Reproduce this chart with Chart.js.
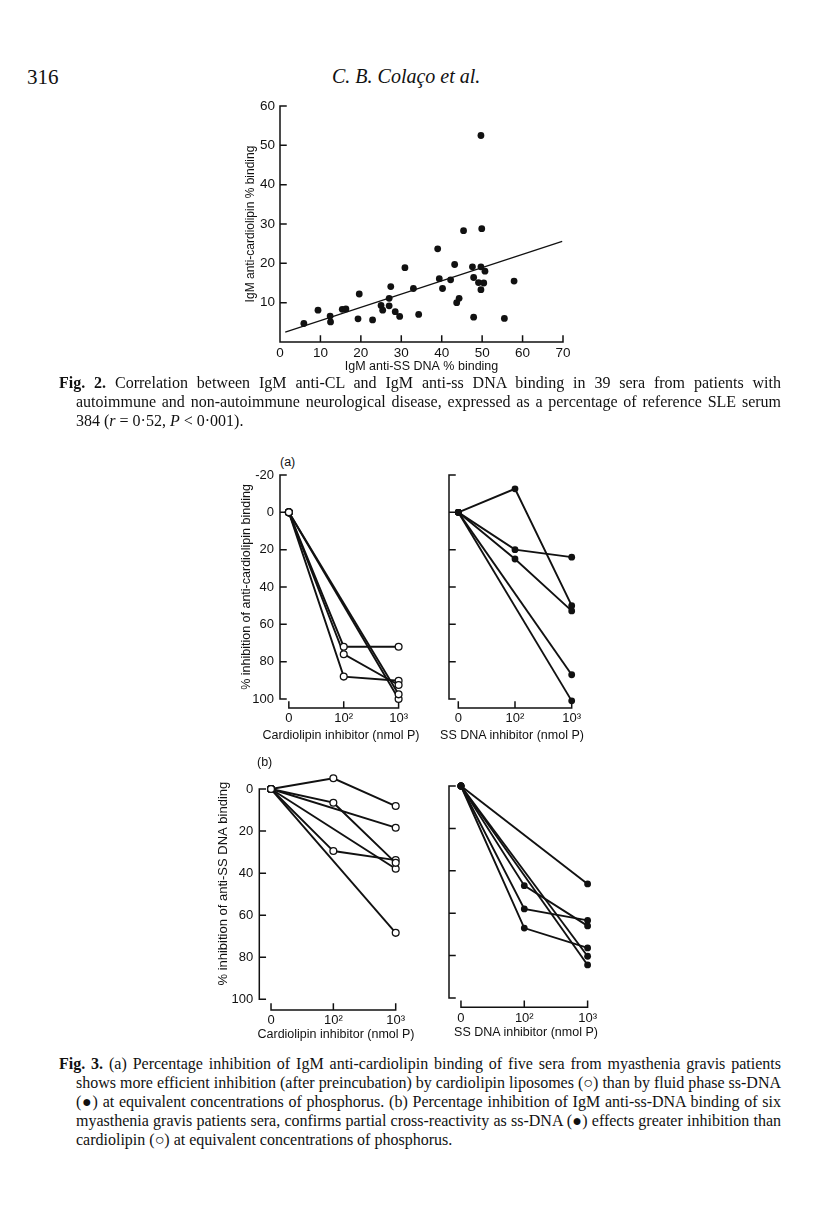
<!DOCTYPE html>
<html><head><meta charset="utf-8">
<script src="https://cdn.jsdelivr.net/npm/chart.js@4.4.1/dist/chart.umd.min.js"></script>
<style>
html,body{margin:0;padding:0;background:#fff;}
body{width:816px;height:1231px;position:relative;overflow:hidden;font-family:'Liberation Serif','Times New Roman',serif;color:#111;}
.abs{position:absolute;white-space:nowrap;}
.ln{position:absolute;font-size:16px;line-height:19px;white-space:nowrap;}
.sans{font-family:'Liberation Sans',Arial,sans-serif;}
.xt{position:absolute;width:220px;text-align:center;font-family:'Liberation Sans',Arial,sans-serif;font-size:12.5px;line-height:15px;white-space:nowrap;color:#111;}
canvas{position:absolute;}
</style></head><body>
<div class="abs" style="left:27px;top:65px;font-size:21px;">316</div>
<div class="abs" style="left:332px;top:65px;font-size:20px;font-style:italic;">C. B. Colaço et al.</div>

<canvas id="fig2" width="400" height="297" style="left:200px;top:88px;"></canvas>

<div class="ln j" style="left:59px;top:373px;width:722px;"><span><b>Fig. 2.</b> Correlation between IgM anti-CL and IgM anti-ss DNA binding in 39 sera from patients with</span></div>
<div class="ln j" style="left:76px;top:392px;width:705px;"><span>autoimmune and non-autoimmune neurological disease, expressed as a percentage of reference SLE serum</span></div>
<div class="ln" style="left:76px;top:411px;width:705px;"><span>384 (<i>r</i> = 0·52, <i>P</i> &lt; 0·001).</span></div>

<div class="abs sans" style="left:280px;top:455px;font-size:12.5px;">(a)</div>
<canvas id="fig3aL" width="220" height="305" style="left:200px;top:445px;"></canvas>
<canvas id="fig3aR" width="170" height="305" style="left:430px;top:445px;"></canvas>
<div class="xt" style="left:231px;top:728px;">Cardiolipin inhibitor (nmol P)</div>
<div class="xt" style="left:402px;top:728px;">SS DNA inhibitor (nmol P)</div>

<div class="abs sans" style="left:257px;top:755px;font-size:12.5px;">(b)</div>
<canvas id="fig3bL" width="220" height="300" style="left:200px;top:750px;"></canvas>
<canvas id="fig3bR" width="180" height="280" style="left:430px;top:770px;"></canvas>
<div class="xt" style="left:226px;top:1027px;">Cardiolipin inhibitor (nmol P)</div>
<div class="xt" style="left:416px;top:1025px;">SS DNA inhibitor (nmol P)</div>

<div class="ln j" style="left:59px;top:1054px;width:722px;"><span><b>Fig. 3.</b> (a) Percentage inhibition of IgM anti-cardiolipin binding of five sera from myasthenia gravis patients</span></div>
<div class="ln j" style="left:76px;top:1073px;width:705px;"><span>shows more efficient inhibition (after preincubation) by cardiolipin liposomes (○) than by fluid phase ss-DNA</span></div>
<div class="ln j" style="left:76px;top:1092px;width:705px;"><span>(●) at equivalent concentrations of phosphorus. (b) Percentage inhibition of IgM anti-ss-DNA binding of six</span></div>
<div class="ln j" style="left:76px;top:1111px;width:705px;"><span>myasthenia gravis patients sera, confirms partial cross-reactivity as ss-DNA (●) effects greater inhibition than</span></div>
<div class="ln" style="left:76px;top:1130px;width:705px;"><span>cardiolipin (○) at equivalent concentrations of phosphorus.</span></div>

<script>
// ---------- DATA ----------
// Fig. 2 : IgM anti-SS DNA % binding (x) vs IgM anti-cardiolipin % binding (y), 39 sera
const fig2SsDna = [5.9,9.4,12.4,12.5,15.4,16.3,19.6,19.3,22.9,25.0,25.4,27.0,27.0,27.4,28.5,29.6,30.9,33.0,34.3,39.0,39.4,40.2,42.2,43.2,43.7,44.3,45.4,47.6,47.9,47.9,49.1,49.7,49.7,49.7,49.9,50.4,50.7,55.5,57.9];
const fig2Cardiolipin = [4.7,8.1,6.6,5.1,8.3,8.4,12.2,5.9,5.6,9.3,8.1,11.1,9.2,14.1,7.7,6.5,18.9,13.6,7.0,23.7,16.1,13.6,15.8,19.7,10.0,11.1,28.3,19.1,16.4,6.3,15.1,19.1,13.3,52.5,28.8,15.0,18.0,6.0,15.5];
const fig2FitX = [1.3, 69.8];
const fig2FitY = [2.5, 25.6];
const fig2XTicks = [0,10,20,30,40,50,60,70];
const fig2YTicks = [10,20,30,40,50,60];

// Fig. 3 : dose positions and labels
const doseIndex = [0, 1, 2];
const doseLabels = ['0', '10²', '10³'];
const inhibTicksA = [-20,0,20,40,60,80,100];
const inhibTicksB = [0,20,40,60,80,100];

// (a) inhibition of anti-cardiolipin binding, cardiolipin inhibitor (open circles)
const aCL1 = [0, 72, 72];
const aCL2 = [0, 76, 92.5];
const aCL3 = [0, 88, 90.2];
const aCL4 = [0, null, 97.5];
const aCL5 = [0, null, 100];
// (a) inhibition of anti-cardiolipin binding, SS DNA inhibitor (filled)
const aDNA1 = [0, -12.6, 50];
const aDNA2 = [0, 20, 24];
const aDNA3 = [0, 25, 52.8];
const aDNA4 = [0, null, 87];
const aDNA5 = [0, null, 101];
// (b) inhibition of anti-SS DNA binding, cardiolipin inhibitor (open)
const bCL1 = [0, -5.1, 8.1];
const bCL2 = [0, 6.5, 35.1];
const bCL3 = [0, null, 18.4];
const bCL4 = [0, 29.5, 33.8];
const bCL5 = [0, null, 37.9];
const bCL6 = [0, null, 68.4];
// (b) inhibition of anti-SS DNA binding, SS DNA inhibitor (filled)
const bDNA1 = [0, null, 46.2];
const bDNA2 = [0, 47, 66];
const bDNA3 = [0, 58, 63.4];
const bDNA4 = [0, 67, 76.4];
const bDNA5 = [0, null, 80.3];
const bDNA6 = [0, null, 84.4];

// ---------- RENDERING ----------
Chart.defaults.font.family = "'Liberation Sans', Arial, sans-serif";
Chart.defaults.color = '#111';
const INK = '#111';

const frameAxes = {
  id: 'frameAxes',
  beforeDatasetsDraw(chart, args, o) {
    if (!o || !o.on) return;
    const {ctx, chartArea, scales} = chart;
    const x = scales.x, y = scales.y;
    ctx.save();
    ctx.strokeStyle = INK; ctx.lineWidth = 1.5; ctx.lineCap = 'square';
    const ax = chartArea.left;
    ctx.beginPath();
    ctx.moveTo(ax, y.getPixelForValue(o.yFrom));
    ctx.lineTo(ax, y.getPixelForValue(o.yTo));
    o.yTicks.forEach(v => { const p = y.getPixelForValue(v); ctx.moveTo(ax, p); ctx.lineTo(ax + o.tl, p); });
    const by = y.getPixelForValue(o.yBase) + o.xGap;
    ctx.moveTo(x.getPixelForValue(o.xFrom), by);
    ctx.lineTo(x.getPixelForValue(o.xTo), by);
    o.xTicks.forEach(v => { const p = x.getPixelForValue(v); ctx.moveTo(p, by); ctx.lineTo(p, by - o.tl); });
    ctx.stroke();
    ctx.restore();
  }
};
Chart.register(frameAxes);

function pad(canvas, area, yw, xh) {
  return {left: area.l - canvas.x - yw, top: area.t - canvas.y,
          right: canvas.x + canvas.w - area.r, bottom: canvas.y + canvas.h - area.b - xh};
}

// Fig. 2
(function(){
  const cv = {x:200, y:88, w:400, h:297};
  const area = {l:280, t:106, r:563, b:342};
  const yw = 41, xh = 43;
  new Chart(document.getElementById('fig2'), {
    data: {
      datasets: [
        {type:'scatter', data: fig2SsDna.map((v,i)=>({x:v, y:fig2Cardiolipin[i]})),
         pointRadius:3.4, pointBackgroundColor:INK, pointBorderColor:INK, pointBorderWidth:0, clip:false},
        {type:'line', data: fig2FitX.map((v,i)=>({x:v, y:fig2FitY[i]})),
         borderColor:INK, borderWidth:1.2, pointRadius:0, clip:false}
      ]
    },
    options: {
      responsive:false, animation:false, devicePixelRatio:1,
      layout:{padding: pad(cv, area, yw, xh)},
      plugins:{legend:{display:false}, tooltip:{enabled:false},
        frameAxes:{on:true, yFrom:0, yTo:60, yTicks:fig2YTicks, xFrom:0, xTo:70, xTicks:fig2XTicks, yBase:0, xGap:0, tl:6}},
      scales:{
        x:{type:'linear', min:0, max:70, afterBuildTicks:s=>{s.ticks = fig2XTicks.map(v=>({value:v}));},
           grid:{display:false, drawTicks:false}, border:{display:false},
           ticks:{padding:3, font:{size:13.5}, maxRotation:0},
           title:{display:true, text:'IgM anti-SS DNA % binding', font:{size:12.5}, padding:{top:0, bottom:11}},
           afterFit:s=>{s.height = xh;}},
        y:{type:'linear', min:0, max:60, afterBuildTicks:s=>{s.ticks = fig2YTicks.map(v=>({value:v}));},
           grid:{display:false, drawTicks:false}, border:{display:false},
           ticks:{padding:5, font:{size:13.5}},
           title:{display:true, text:'IgM anti-cardiolipin % binding', font:{size:12}, padding:{top:4, bottom:0}},
           afterFit:s=>{s.width = yw;}}
      }
    }
  });
})();

function inhibChart(id, cv, area, yw, xh, xMin, yMin, yMax, yFrom, yTicks, series, filled, opts) {
  const datasets = series.map(s => ({
    type:'line', data: s.map((v,i)=>({x:doseIndex[i], y:v})), spanGaps:true,
    borderColor:INK, borderWidth:1.9, pointRadius:3.4,
    pointBackgroundColor: filled ? INK : '#fff', pointBorderColor:INK, pointBorderWidth: filled ? 0 : 1.3,
    clip:false
  }));
  new Chart(document.getElementById(id), {
    data:{datasets},
    options:{
      responsive:false, animation:false, devicePixelRatio:1,
      layout:{padding: pad(cv, area, yw, xh)},
      plugins:{legend:{display:false}, tooltip:{enabled:false},
        frameAxes:{on:true, yFrom:yFrom, yTo:100, yTicks:yTicks, xFrom:0, xTo:2, xTicks:doseIndex, yBase:100, xGap:opts.xGap, tl:6}},
      scales:{
        x:{type:'linear', min:xMin, max:2, afterBuildTicks:s=>{s.ticks = doseIndex.map(v=>({value:v}));},
           grid:{display:false, drawTicks:false}, border:{display:false},
           ticks:{padding:opts.xPad, font:{size:13}, maxRotation:0, callback:v=>doseLabels[v] ?? ''},
           title:{display:false},
           afterFit:s=>{s.height = xh;}},
        y:{type:'linear', reverse:true, min:yMin, max:yMax, display: opts.yTitle ? true : false,
           afterBuildTicks:s=>{s.ticks = yTicks.map(v=>({value:v}));},
           grid:{display:false, drawTicks:false}, border:{display:false},
           ticks:{padding:6, font:{size:13}},
           title:{display: !!opts.yTitle, text:opts.yTitle || '', font:{size:opts.yTitleSize || 12.5}, padding:{top:0, bottom:0}},
           afterFit:s=>{s.width = yw;}}
      }
    }
  });
}

inhibChart('fig3aL', {x:200,y:445,w:220,h:305}, {l:280,t:475,r:400.7,b:699}, 41, 48,
  -0.161, -20, 100, -20, inhibTicksA, [aCL1,aCL2,aCL3,aCL4,aCL5], false,
  {xGap:9, xPad:12, yTitle:'% inhibition of anti-cardiolipin binding'});
inhibChart('fig3aR', {x:430,y:445,w:170,h:305}, {l:449,t:475,r:571.7,b:699}, 0, 48,
  -0.164, -20, 100, -20, inhibTicksA, [aDNA1,aDNA2,aDNA3,aDNA4,aDNA5], true,
  {xGap:9, xPad:12});
inhibChart('fig3bL', {x:200,y:750,w:220,h:300}, {l:259.3,t:768,r:395.7,b:999.3}, 43.8, 50,
  -0.188, -10, 100, 0, inhibTicksB, [bCL1,bCL2,bCL3,bCL4,bCL5,bCL6], false,
  {xGap:10.7, xPad:13, yTitle:'% inhibition of anti-SS DNA binding', yTitleSize:13});
inhibChart('fig3bR', {x:430,y:770,w:180,h:280}, {l:449,t:786,r:588.3,b:998}, 0, 52,
  -0.189, 0, 100, 0, inhibTicksB, [bDNA1,bDNA2,bDNA3,bDNA4,bDNA5,bDNA6], true,
  {xGap:9.3, xPad:13});

// ---------- caption line fitting ----------
document.querySelectorAll('.ln').forEach(el => {
  const w = parseFloat(el.style.width);
  const span = el.firstElementChild;
  const nat = span.getBoundingClientRect().width;
  if (nat > w - 1) {
    const n = span.textContent.length;
    span.style.letterSpacing = ((w - 1 - nat) / n).toFixed(3) + 'px';
  }
  if (el.classList.contains('j')) {
    el.style.whiteSpace = 'normal';
    el.style.textAlign = 'justify';
    el.style.textAlignLast = 'justify';
  }
});
</script>
</body></html>
